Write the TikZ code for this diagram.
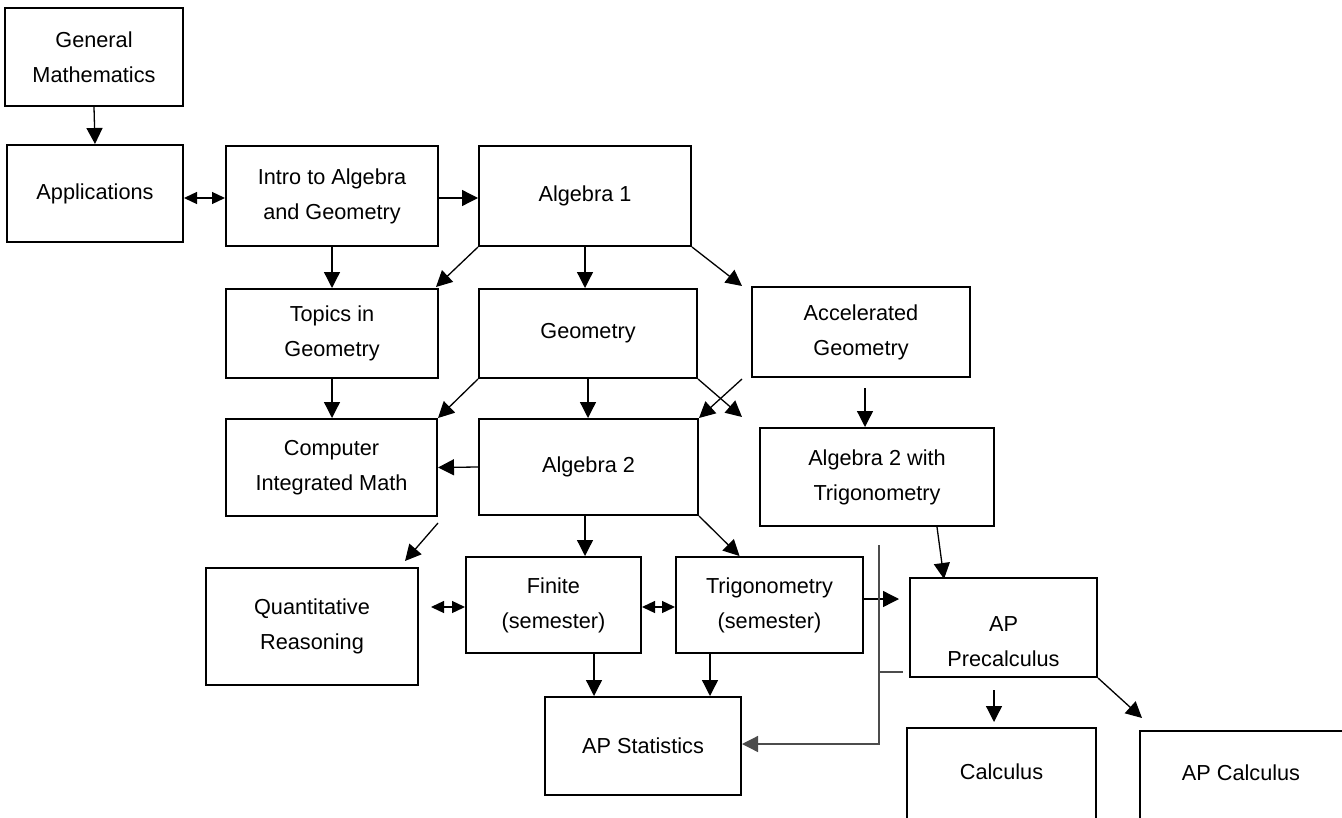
\documentclass[tikz,border=0pt]{standalone}
\usepackage{fontspec}
\setmainfont{Liberation Sans}
\usetikzlibrary{arrows.meta,calc}
\begin{document}
\begin{tikzpicture}[x=0.5pt,y=-0.5pt,
  box/.style={draw, line width=1pt, rectangle, align=center, inner sep=0pt,
    font=\fontsize{10.85pt}{17.5pt}\selectfont},
  txt/.style={align=center, inner sep=0pt, font=\fontsize{10.85pt}{17.5pt}\selectfont},
  arr/.style={line width=0.65pt, -{Triangle[length=8pt,width=8pt]}},
  darr/.style={line width=0.65pt, {Triangle[length=6.5pt,width=6pt]}-{Triangle[length=6.5pt,width=6pt]}},
  gline/.style={line width=0.65pt, draw=black!70}]
\useasboundingbox (0,0) rectangle (1342,818);
\clip (0,0) rectangle (1342,818);

% boxes
\node[box, minimum width=89pt, minimum height=49pt] (gm) at (94,57) {General\\Mathematics};
\node[box, minimum width=88pt, minimum height=48.5pt] (app) at (95,193.5) {Applications};
\node[box, minimum width=106pt, minimum height=50pt] (intro) at (332,196) {Intro to Algebra\\and Geometry};
\node[box, minimum width=106pt, minimum height=50pt] (alg1) at (585,196) {Algebra 1};
\node[box, minimum width=106pt, minimum height=44.5pt] (topics) at (332,333.5) {Topics in\\Geometry};
\node[box, minimum width=109pt, minimum height=44.5pt] (geom) at (588,333.5) {Geometry};
\node[box, minimum width=109pt, minimum height=45pt] (accel) at (861,332) {Accelerated\\Geometry};
\node[box, minimum width=105.5pt, minimum height=48.5pt] (cim) at (331.5,467.5) {Computer\\Integrated Math};
\node[box, minimum width=109.5pt, minimum height=48pt] (alg2) at (588.5,467) {Algebra 2};
\node[box, minimum width=117pt, minimum height=49pt] (alg2trig) at (877,477) {Algebra 2 with\\Trigonometry};
\node[box, minimum width=106pt, minimum height=58.5pt] (quant) at (312,626.5) {Quantitative\\Reasoning};
\node[box, minimum width=87.5pt, minimum height=48pt] (finite) at (553.5,605) {Finite\\(semester)};
\node[box, minimum width=93.5pt, minimum height=48pt] (trig) at (769.5,605) {Trigonometry\\(semester)};
\node[box, minimum width=98pt, minimum height=49pt] (apstat) at (643,746) {AP Statistics};
\node[box, minimum width=93.5pt, minimum height=49.5pt] (precalc) at (1003.5,627.5) {};
\node[txt] (precalct) at (1003.5,641.5) {AP\\Precalculus};
\node[box, minimum width=94.5pt, minimum height=86pt] (calc) at (1001.5,814) {};
\node[txt] (calct) at (1001.5,772) {Calculus};
\node[box, minimum width=102.5pt, minimum height=84.5pt] (apcalc) at (1242.5,815.5) {};
\node[txt] (apcalct) at (1241,773) {AP Calculus};

% connectors
\draw[arr] (gm.south) -- (app.north);
\draw[darr] ($(app.east)+(0,4.5)$) -- ($(intro.west |- app.east)+(0,4.5)$);
\draw[arr] ($(intro.east)+(0,2)$) -- ($(alg1.west)+(0,2)$);
\draw[arr] (intro.south) -- (topics.north);
\draw[arr] (alg1.south west) -- ($(topics.north east)+(-3,-1)$);
\draw[arr] (alg1.south) -- (alg1.south |- geom.north);
\draw[arr] (alg1.south east) -- ($(accel.north west)+(-9,0)$);
\draw[arr] (topics.south) -- (topics.south |- cim.north);
\draw[arr] (geom.south west) -- (cim.north east);
\draw[arr] (geom.south) -- (geom.south |- alg2.north);
\draw[arr] (geom.south east) -- ($(alg2trig.north west)+(-17,-10)$);
\draw[arr] ($(accel.south west)+(-9,1)$) -- (alg2.north east);
\draw[arr, shorten <=5pt] ($(accel.south)+(4,0)$) -- ($(accel.south |- alg2trig.north)+(4,0)$);
\draw[arr] (alg2.west) -- (cim.east);
\draw[arr] ($(cim.south east)+(0,6)$) -- ($(quant.north east)+(-14,-6)$);
\draw[arr] ($(alg2.south)+(-3.5,0)$) -- ($(alg2.south |- finite.north)+(-3.5,0)$);
\draw[arr] (alg2.south east) -- ($(trig.north)+(-30,0)$);
\draw[darr] ($(quant.east |- finite.west)+(12,2)$) -- ($(finite.west)+(0,2)$);
\draw[darr] ($(finite.east)+(0,2)$) -- ($(trig.west)+(0,2)$);
\draw[arr] ($(trig.east)+(0,-6)$) -- ($(precalc.west |- trig.east)+(-10,-6)$);
\draw[arr] ($(alg2trig.south)+(60,0)$) -- ($(precalc.north west)+(35,2)$);
\draw[arr] ($(finite.south)+(40.5,0)$) -- ($(finite.south |- apstat.north)+(40.5,0)$);
\draw[arr] ($(trig.south)+(-59.5,0)$) -- ($(trig.south |- apstat.north)+(-59.5,0)$);
\coordinate (b1) at (879,545);
\coordinate (b2) at (879,744);
\coordinate (b3) at (879,672);
\coordinate (b4) at (903,672);
\draw[gline] (b3) -- (b4);
\draw[gline, -{Triangle[length=8pt,width=8pt]}, line join=miter] (b1) -- (b2) -- (apstat.east |- b2);
\draw[arr] ($(precalc.south)+(-9.5,12)$) -- ($(precalc.south |- calc.north)+(-9.5,-5)$);
\draw[arr] (precalc.south east) -- ($(apcalc.north west)+(3,-12)$);
\end{tikzpicture}
\end{document}
